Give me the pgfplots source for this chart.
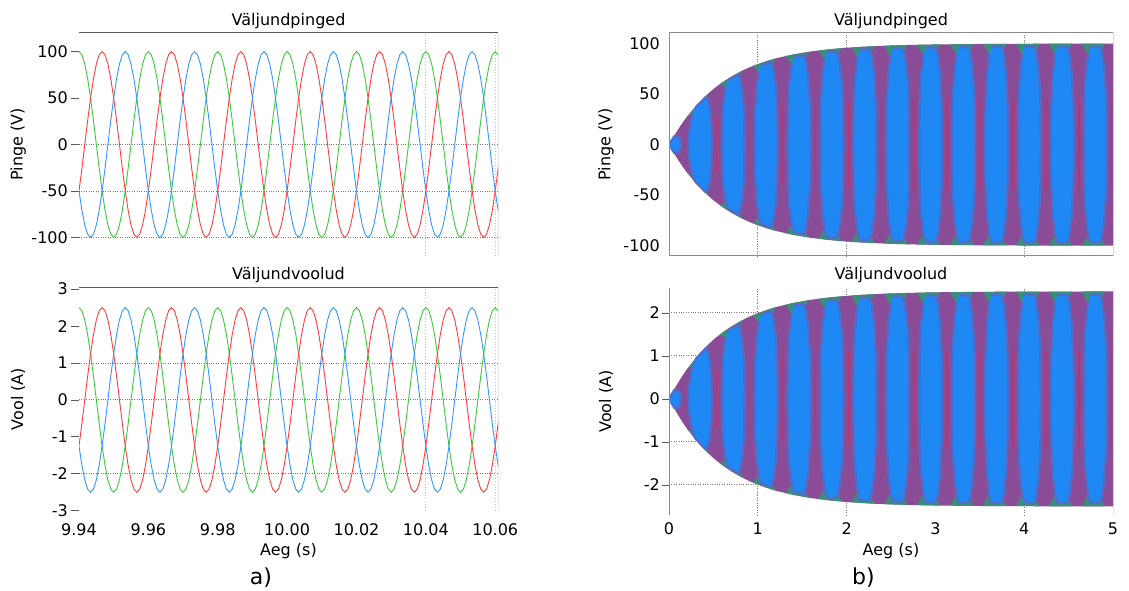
\documentclass[border=0pt]{standalone}
\usepackage{fontspec}
\setmainfont{DejaVu Sans}
\usepackage{pgfplots}
\pgfplotsset{compat=1.18}
\usepackage{pgfplotstable}

\definecolor{cR}{RGB}{255,60,60}
\definecolor{cG}{RGB}{60,200,60}
\definecolor{cB}{RGB}{50,150,255}
\definecolor{cPur}{RGB}{138,76,150}
\definecolor{cLens}{RGB}{30,136,245}
\definecolor{cGrn}{RGB}{40,160,115}
\definecolor{cRline}{RGB}{192,48,106}
\definecolor{cAx}{RGB}{90,90,90}
\definecolor{cGrid}{RGB}{120,120,120}

\newcommand\fs{\fontsize{16}{19}\selectfont}

\pgfplotstableread{
t vg vr vb ig ir ib
9.940000 100 -50 -50 2.5 -1.25 -1.25
9.940833 96.59 -25.88 -70.71 2.415 -0.647 -1.768
9.941667 86.6 0 -86.6 2.165 0 -2.165
9.942500 70.71 25.88 -96.59 1.768 0.647 -2.415
9.943333 50 50 -100 1.25 1.25 -2.5
9.944167 25.88 70.71 -96.59 0.647 1.768 -2.415
9.945000 0 86.6 -86.6 0 2.165 -2.165
9.945833 -25.88 96.59 -70.71 -0.647 2.415 -1.768
9.946667 -50 100 -50 -1.25 2.5 -1.25
9.947500 -70.71 96.59 -25.88 -1.768 2.415 -0.647
9.948333 -86.6 86.6 0 -2.165 2.165 0
9.949167 -96.59 70.71 25.88 -2.415 1.768 0.647
9.950000 -100 50 50 -2.5 1.25 1.25
9.950833 -96.59 25.88 70.71 -2.415 0.647 1.768
9.951667 -86.6 0 86.6 -2.165 0 2.165
9.952500 -70.71 -25.88 96.59 -1.768 -0.647 2.415
9.953333 -50 -50 100 -1.25 -1.25 2.5
9.954167 -25.88 -70.71 96.59 -0.647 -1.768 2.415
9.955000 0 -86.6 86.6 0 -2.165 2.165
9.955833 25.88 -96.59 70.71 0.647 -2.415 1.768
9.956667 50 -100 50 1.25 -2.5 1.25
9.957500 70.71 -96.59 25.88 1.768 -2.415 0.647
9.958333 86.6 -86.6 0 2.165 -2.165 0
9.959167 96.59 -70.71 -25.88 2.415 -1.768 -0.647
9.960000 100 -50 -50 2.5 -1.25 -1.25
9.960833 96.59 -25.88 -70.71 2.415 -0.647 -1.768
9.961667 86.6 0 -86.6 2.165 0 -2.165
9.962500 70.71 25.88 -96.59 1.768 0.647 -2.415
9.963333 50 50 -100 1.25 1.25 -2.5
9.964167 25.88 70.71 -96.59 0.647 1.768 -2.415
9.965000 0 86.6 -86.6 0 2.165 -2.165
9.965833 -25.88 96.59 -70.71 -0.647 2.415 -1.768
9.966667 -50 100 -50 -1.25 2.5 -1.25
9.967500 -70.71 96.59 -25.88 -1.768 2.415 -0.647
9.968333 -86.6 86.6 0 -2.165 2.165 0
9.969167 -96.59 70.71 25.88 -2.415 1.768 0.647
9.970000 -100 50 50 -2.5 1.25 1.25
9.970833 -96.59 25.88 70.71 -2.415 0.647 1.768
9.971667 -86.6 0 86.6 -2.165 0 2.165
9.972500 -70.71 -25.88 96.59 -1.768 -0.647 2.415
9.973333 -50 -50 100 -1.25 -1.25 2.5
9.974167 -25.88 -70.71 96.59 -0.647 -1.768 2.415
9.975000 0 -86.6 86.6 0 -2.165 2.165
9.975833 25.88 -96.59 70.71 0.647 -2.415 1.768
9.976667 50 -100 50 1.25 -2.5 1.25
9.977500 70.71 -96.59 25.88 1.768 -2.415 0.647
9.978333 86.6 -86.6 0 2.165 -2.165 0
9.979167 96.59 -70.71 -25.88 2.415 -1.768 -0.647
9.980000 100 -50 -50 2.5 -1.25 -1.25
9.980833 96.59 -25.88 -70.71 2.415 -0.647 -1.768
9.981667 86.6 0 -86.6 2.165 0 -2.165
9.982500 70.71 25.88 -96.59 1.768 0.647 -2.415
9.983333 50 50 -100 1.25 1.25 -2.5
9.984167 25.88 70.71 -96.59 0.647 1.768 -2.415
9.985000 0 86.6 -86.6 0 2.165 -2.165
9.985833 -25.88 96.59 -70.71 -0.647 2.415 -1.768
9.986667 -50 100 -50 -1.25 2.5 -1.25
9.987500 -70.71 96.59 -25.88 -1.768 2.415 -0.647
9.988333 -86.6 86.6 0 -2.165 2.165 0
9.989167 -96.59 70.71 25.88 -2.415 1.768 0.647
9.990000 -100 50 50 -2.5 1.25 1.25
9.990833 -96.59 25.88 70.71 -2.415 0.647 1.768
9.991667 -86.6 0 86.6 -2.165 0 2.165
9.992500 -70.71 -25.88 96.59 -1.768 -0.647 2.415
9.993333 -50 -50 100 -1.25 -1.25 2.5
9.994167 -25.88 -70.71 96.59 -0.647 -1.768 2.415
9.995000 0 -86.6 86.6 0 -2.165 2.165
9.995833 25.88 -96.59 70.71 0.647 -2.415 1.768
9.996667 50 -100 50 1.25 -2.5 1.25
9.997500 70.71 -96.59 25.88 1.768 -2.415 0.647
9.998333 86.6 -86.6 0 2.165 -2.165 0
9.999167 96.59 -70.71 -25.88 2.415 -1.768 -0.647
10.000000 100 -50 -50 2.5 -1.25 -1.25
10.000833 96.59 -25.88 -70.71 2.415 -0.647 -1.768
10.001667 86.6 0 -86.6 2.165 0 -2.165
10.002500 70.71 25.88 -96.59 1.768 0.647 -2.415
10.003333 50 50 -100 1.25 1.25 -2.5
10.004167 25.88 70.71 -96.59 0.647 1.768 -2.415
10.005000 0 86.6 -86.6 0 2.165 -2.165
10.005833 -25.88 96.59 -70.71 -0.647 2.415 -1.768
10.006667 -50 100 -50 -1.25 2.5 -1.25
10.007500 -70.71 96.59 -25.88 -1.768 2.415 -0.647
10.008333 -86.6 86.6 0 -2.165 2.165 0
10.009167 -96.59 70.71 25.88 -2.415 1.768 0.647
10.010000 -100 50 50 -2.5 1.25 1.25
10.010833 -96.59 25.88 70.71 -2.415 0.647 1.768
10.011667 -86.6 0 86.6 -2.165 0 2.165
10.012500 -70.71 -25.88 96.59 -1.768 -0.647 2.415
10.013333 -50 -50 100 -1.25 -1.25 2.5
10.014167 -25.88 -70.71 96.59 -0.647 -1.768 2.415
10.015000 0 -86.6 86.6 0 -2.165 2.165
10.015833 25.88 -96.59 70.71 0.647 -2.415 1.768
10.016667 50 -100 50 1.25 -2.5 1.25
10.017500 70.71 -96.59 25.88 1.768 -2.415 0.647
10.018333 86.6 -86.6 0 2.165 -2.165 0
10.019167 96.59 -70.71 -25.88 2.415 -1.768 -0.647
10.020000 100 -50 -50 2.5 -1.25 -1.25
10.020833 96.59 -25.88 -70.71 2.415 -0.647 -1.768
10.021667 86.6 0 -86.6 2.165 0 -2.165
10.022500 70.71 25.88 -96.59 1.768 0.647 -2.415
10.023333 50 50 -100 1.25 1.25 -2.5
10.024167 25.88 70.71 -96.59 0.647 1.768 -2.415
10.025000 0 86.6 -86.6 0 2.165 -2.165
10.025833 -25.88 96.59 -70.71 -0.647 2.415 -1.768
10.026667 -50 100 -50 -1.25 2.5 -1.25
10.027500 -70.71 96.59 -25.88 -1.768 2.415 -0.647
10.028333 -86.6 86.6 0 -2.165 2.165 0
10.029167 -96.59 70.71 25.88 -2.415 1.768 0.647
10.030000 -100 50 50 -2.5 1.25 1.25
10.030833 -96.59 25.88 70.71 -2.415 0.647 1.768
10.031667 -86.6 0 86.6 -2.165 0 2.165
10.032500 -70.71 -25.88 96.59 -1.768 -0.647 2.415
10.033333 -50 -50 100 -1.25 -1.25 2.5
10.034167 -25.88 -70.71 96.59 -0.647 -1.768 2.415
10.035000 0 -86.6 86.6 0 -2.165 2.165
10.035833 25.88 -96.59 70.71 0.647 -2.415 1.768
10.036667 50 -100 50 1.25 -2.5 1.25
10.037500 70.71 -96.59 25.88 1.768 -2.415 0.647
10.038333 86.6 -86.6 0 2.165 -2.165 0
10.039167 96.59 -70.71 -25.88 2.415 -1.768 -0.647
10.040000 100 -50 -50 2.5 -1.25 -1.25
10.040833 96.59 -25.88 -70.71 2.415 -0.647 -1.768
10.041667 86.6 0 -86.6 2.165 0 -2.165
10.042500 70.71 25.88 -96.59 1.768 0.647 -2.415
10.043333 50 50 -100 1.25 1.25 -2.5
10.044167 25.88 70.71 -96.59 0.647 1.768 -2.415
10.045000 0 86.6 -86.6 0 2.165 -2.165
10.045833 -25.88 96.59 -70.71 -0.647 2.415 -1.768
10.046667 -50 100 -50 -1.25 2.5 -1.25
10.047500 -70.71 96.59 -25.88 -1.768 2.415 -0.647
10.048333 -86.6 86.6 0 -2.165 2.165 0
10.049167 -96.59 70.71 25.88 -2.415 1.768 0.647
10.050000 -100 50 50 -2.5 1.25 1.25
10.050833 -96.59 25.88 70.71 -2.415 0.647 1.768
10.051667 -86.6 0 86.6 -2.165 0 2.165
10.052500 -70.71 -25.88 96.59 -1.768 -0.647 2.415
10.053333 -50 -50 100 -1.25 -1.25 2.5
10.054167 -25.88 -70.71 96.59 -0.647 -1.768 2.415
10.055000 0 -86.6 86.6 0 -2.165 2.165
10.055833 25.88 -96.59 70.71 0.647 -2.415 1.768
10.056667 50 -100 50 1.25 -2.5 1.25
10.057500 70.71 -96.59 25.88 1.768 -2.415 0.647
10.058333 86.6 -86.6 0 2.165 -2.165 0
10.059167 96.59 -70.71 -25.88 2.415 -1.768 -0.647
10.060000 100 -50 -50 2.5 -1.25 -1.25
10.060833 96.59 -25.88 -70.71 2.415 -0.647 -1.768
10.061667 86.6 0 -86.6 2.165 0 -2.165
}\wave

\pgfplotsset{
  base/.style={
    scale only axis,
    font=\fs,
    /pgf/number format/assume math mode=true,
    axis line style={draw=none},
    ytick pos=left, xtick pos=bottom,
    tick style={cAx, line width=0.8pt},
    tick align=outside,
    grid style={cGrid, dotted, line width=0.9pt},
    yticklabel style={anchor=east, inner sep=0pt},
    xticklabel style={anchor=center, inner sep=0pt},
    title style={font=\fs, anchor=center, at={(rel axis cs:0.5,1)}},
    every axis y label/.style={at={(rel axis cs:0,0.5)}, rotate=90, anchor=center, font=\fs},
    every axis x label/.style={at={(rel axis cs:0.5,0)}, anchor=center, font=\fs},
  },
  wave/.style={line width=0.9pt},
  lens/.style={fill=cLens, draw=cLens!55!cPur, line width=2.2pt},
  grn/.style={fill=cGrn, draw=none, opacity=0.8},
  rline/.style={draw=cRline, line width=1.5pt, opacity=0.8},
}

\begin{document}
\begin{tikzpicture}
\path[use as bounding box] (0pt,0pt) rectangle (1129pt,591pt);

% ---------- a) voltages ----------
\begin{axis}[base,
  at={(79pt,335pt)}, anchor=south west, width=419pt, height=223pt,
  xmin=9.94, xmax=10.0608, ymin=-120, ymax=120,
  xtick=\empty,
  ytick={-100,-50,0,50,100}, major tick length=8pt,
  yticklabel style={xshift=-3pt},
  extra y ticks={-100,-50,0}, extra y tick labels={},
  extra y tick style={grid=major},
  extra x ticks={10.04,10.06}, extra x tick labels={},
  extra x tick style={grid=major, major tick length=0pt, major grid style={black!25, dotted, line width=0.9pt}},
  title={Väljundpinged}, title style={yshift=6pt},
  ylabel={Pinge (V)}, ylabel style={yshift=60.7pt},
]
\addplot[wave, cG] table[x=t, y=vg] {\wave};
\addplot[wave, cR] table[x=t, y=vr] {\wave};
\addplot[wave, cB] table[x=t, y=vb] {\wave};
\draw[cAx, line width=1pt] (rel axis cs:0,1) -- (rel axis cs:1,1) -- (rel axis cs:1,0);
\end{axis}

% ---------- a) currents ----------
\begin{axis}[base,
  at={(79pt,80.3pt)}, anchor=south west, width=419pt, height=223.4pt,
  xmin=9.94, xmax=10.0608, ymin=-3, ymax=3.05,
  xtick={9.94,9.96,9.98,10.00,10.02,10.04,10.06},
  xticklabels={9.94,9.96,9.98,10.00,10.02,10.04,10.06},
  xticklabel style={yshift=-10.6pt},
  x tick style={draw=none},
  ytick={-3,-2,-1,0,1,2,3}, major tick length=8pt,
  yticklabel style={xshift=-3pt},
  extra y ticks={-2,0,1}, extra y tick labels={},
  extra y tick style={grid=major},
  extra x ticks={10.04,10.06}, extra x tick labels={},
  extra x tick style={grid=major, major tick length=0pt, major grid style={black!25, dotted, line width=0.9pt}},
  title={Väljundvoolud}, title style={yshift=6.3pt},
  ylabel={Vool (A)}, ylabel style={yshift=61pt},
  xlabel={Aeg (s)}, xlabel style={yshift=-40.3pt},
]
\addplot[wave, cG] table[x=t, y=ig] {\wave};
\addplot[wave, cR] table[x=t, y=ir] {\wave};
\addplot[wave, cB] table[x=t, y=ib] {\wave};
\draw[cAx, line width=1pt] (rel axis cs:0,1) -- (rel axis cs:1,1) -- (rel axis cs:1,0);
\end{axis}

% ---------- b) voltages ----------
\begin{axis}[base,
  at={(669pt,335pt)}, anchor=south west, width=444pt, height=223pt,
  xmin=0, xmax=5, ymin=-110.2, ymax=110.5,
  xtick=\empty,
  ytick={-100,-50,0,50,100}, major tick length=0pt,
  yticklabel style={xshift=-9pt},
  extra x ticks={1,2,4}, extra x tick labels={},
  extra x tick style={grid=major, major tick length=0pt},
  title={Väljundpinged}, title style={yshift=6pt},
  ylabel={Pinge (V)}, ylabel style={yshift=63pt},
  unbounded coords=jump,
]
\addplot[fill=cPur, draw=none] coordinates {
(0,0) (0.05,7.69) (0.1,14.79) (0.15,21.34) (0.2,27.39) (0.3,38.12) (0.4,47.27) (0.5,55.07) (0.6,61.71) (0.7,67.37) (0.8,72.20) (0.9,76.31) (1,79.81) (1.1,82.80) (1.2,85.34) (1.4,89.35) (1.6,92.27) (1.8,94.39) (2,95.92) (2.25,97.27) (2.5,98.17) (2.75,98.77) (3,99.18) (3.5,99.63) (4,99.83) (4.5,99.93) (5,99.97)
(5,-99.97) (4.5,-99.93) (4,-99.83) (3.5,-99.63) (3,-99.18) (2.75,-98.77) (2.5,-98.17) (2.25,-97.27) (2,-95.92) (1.8,-94.39) (1.6,-92.27) (1.4,-89.35) (1.2,-85.34) (1.1,-82.80) (1,-79.81) (0.9,-76.31) (0.8,-72.20) (0.7,-67.37) (0.6,-61.71) (0.5,-55.07) (0.4,-47.27) (0.3,-38.12) (0.2,-27.39) (0.15,-21.34) (0.1,-14.79) (0.05,-7.69)
};
\addplot[rline] coordinates {
(0.166,-10.5) (0.166,10.5) (0.3,nan) (0.5367,-25.9) (0.5367,25.9) (0.7,nan) (0.9074,-34.5) (0.9074,34.5) (1,nan) (1.2781,-39.2) (1.2781,39.2) (1.4,nan) (1.6488,-41.8) (1.6488,41.8) (1.8,nan) (2.0195,-43.2) (2.0195,43.2) (2.1,nan) (2.3902,-44) (2.3902,44) (2.5,nan) (2.7609,-44.5) (2.7609,44.5) (2.9,nan) (3.1316,-44.7) (3.1316,44.7) (3.3,nan) (3.5023,-44.8) (3.5023,44.8) (3.6,nan) (3.873,-44.9) (3.873,44.9) (4,nan) (4.2437,-44.9) (4.2437,44.9) (4.4,nan) (4.6144,-44.9) (4.6144,44.9) (4.8,nan) (4.9851,-44.9) (4.9851,44.9)
};
\addplot[grn] coordinates {
(0.202,27.62) (0.462,52.25) (0.332,33.59) (0.35,nan) (0.202,-27.62) (0.462,-52.25) (0.332,-33.59) (0.5,nan)
(0.5727,60.0) (0.8327,73.61) (0.7027,53.46) (0.7,nan) (0.5727,-60.0) (0.8327,-73.61) (0.7027,-53.46) (0.8,nan)
(0.9434,77.89) (1.2034,85.42) (1.0734,64.44) (1.1,nan) (0.9434,-77.89) (1.2034,-85.42) (1.0734,-64.44) (1.2,nan)
(1.3141,87.79) (1.5741,91.94) (1.4441,70.50) (1.5,nan) (1.3141,-87.79) (1.5741,-91.94) (1.4441,-70.50) (1.6,nan)
(1.6848,93.25) (1.9448,95.55) (1.8148,73.86) (1.8,nan) (1.6848,-93.25) (1.9448,-95.55) (1.8148,-73.86) (1.9,nan)
(2.0555,96.27) (2.3155,97.54) (2.1855,75.71) (2.2,nan) (2.0555,-96.27) (2.3155,-97.54) (2.1855,-75.71) (2.3,nan)
(2.4262,97.94) (2.6862,98.64) (2.5562,76.74) (2.6,nan) (2.4262,-97.94) (2.6862,-98.64) (2.5562,-76.74) (2.7,nan)
(2.7969,98.86) (3.0569,99.25) (2.9269,77.3) (2.9,nan) (2.7969,-98.86) (3.0569,-99.25) (2.9269,-77.3) (3.0,nan)
(3.1676,99.37) (3.4276,99.58) (3.2976,77.6) (3.3,nan) (3.1676,-99.37) (3.4276,-99.58) (3.2976,-77.6) (3.4,nan)
(3.5383,99.65) (3.7983,99.77) (3.6683,77.8) (3.7,nan) (3.5383,-99.65) (3.7983,-99.77) (3.6683,-77.8) (3.8,nan)
(3.909,99.81) (4.169,99.87) (4.039,77.9) (4.0,nan) (3.909,-99.81) (4.169,-99.87) (4.039,-77.9) (4.1,nan)
(4.2797,99.89) (4.5397,99.93) (4.4097,77.9) (4.4,nan) (4.2797,-99.89) (4.5397,-99.93) (4.4097,-77.9) (4.5,nan)
(4.6504,99.94) (4.9104,99.96) (4.7804,78.0) (4.8,nan) (4.6504,-99.94) (4.9104,-99.96) (4.7804,-78.0)
};
\addplot[lens] coordinates {
(0,0) (0.02,2.84) (0.06,8.24) (0.11,8.07) (0.14,0) (0.11,-8.07) (0.06,-8.24) (0.02,-2.84) (0.15,nan)
(0.297,36.69) (0.407,46.42) (0.432,44.91) (0.46,36.47) (0.477,21.35) (0.482,0) (0.477,-21.35) (0.46,-36.47) (0.432,-44.91) (0.407,-46.42) (0.297,-36.69) (0.272,-31.75) (0.244,-22.62) (0.227,-12.18) (0.222,0) (0.227,12.18) (0.244,22.62) (0.272,31.75) (0.5,nan)
(0.6677,63.67) (0.7777,69.05) (0.8027,65.09) (0.8307,51.47) (0.8477,29.70) (0.8527,0) (0.8477,-29.70) (0.8307,-51.47) (0.8027,-65.09) (0.7777,-69.05) (0.6677,-63.67) (0.6427,-57.82) (0.6147,-43.82) (0.5977,-24.63) (0.5927,0) (0.5977,24.63) (0.6147,43.82) (0.6427,57.82) (0.9,nan)
(1.0384,78.58) (1.1484,81.56) (1.1734,76.23) (1.2014,59.76) (1.2184,34.30) (1.2234,0) (1.2184,-34.30) (1.2014,-59.76) (1.1734,-76.23) (1.1484,-81.56) (1.0384,-78.58) (1.0134,-72.22) (0.9854,-55.53) (0.9684,-31.50) (0.9634,0) (0.9684,31.50) (0.9854,55.53) (1.0134,72.22) (1.3,nan)
(1.4091,86.82) (1.5191,88.46) (1.5441,82.40) (1.5721,64.34) (1.5891,36.85) (1.5941,0) (1.5891,-36.85) (1.5721,-64.34) (1.5441,-82.40) (1.5191,-88.46) (1.4091,-86.82) (1.3841,-80.17) (1.3561,-62.01) (1.3391,-35.30) (1.3341,0) (1.3391,35.30) (1.3561,62.01) (1.3841,80.17) (1.65,nan)
(1.7798,91.85) (1.8898,91.85) (1.9148,85.22) (1.9428,66.28) (1.9598,37.88) (1.9648,0) (1.9598,-37.88) (1.9428,-66.28) (1.9148,-85.22) (1.8898,-91.85) (1.7798,-91.85) (1.7548,-85.22) (1.7268,-66.28) (1.7098,-37.88) (1.7048,0) (1.7098,37.88) (1.7268,66.28) (1.7548,85.22) (2.0,nan)
(2.1505,94.16) (2.2605,94.16) (2.2855,87.36) (2.3135,67.95) (2.3305,38.83) (2.3355,0) (2.3305,-38.83) (2.3135,-67.95) (2.2855,-87.36) (2.2605,-94.16) (2.1505,-94.16) (2.1255,-87.36) (2.0975,-67.95) (2.0805,-38.83) (2.0755,0) (2.0805,38.83) (2.0975,67.95) (2.1255,87.36) (2.4,nan)
(2.5212,95.43) (2.6312,95.43) (2.6562,88.54) (2.6842,68.87) (2.7012,39.35) (2.7062,0) (2.7012,-39.35) (2.6842,-68.87) (2.6562,-88.54) (2.6312,-95.43) (2.5212,-95.43) (2.4962,-88.54) (2.4682,-68.87) (2.4512,-39.35) (2.4462,0) (2.4512,39.35) (2.4682,68.87) (2.4962,88.54) (2.75,nan)
(2.8919,96.13) (3.0019,96.13) (3.0269,89.19) (3.0549,69.37) (3.0719,39.64) (3.0769,0) (3.0719,-39.64) (3.0549,-69.37) (3.0269,-89.19) (3.0019,-96.13) (2.8919,-96.13) (2.8669,-89.19) (2.8389,-69.37) (2.8219,-39.64) (2.8169,0) (2.8219,39.64) (2.8389,69.37) (2.8669,89.19) (3.1,nan)
(3.2626,96.52) (3.3726,96.52) (3.3976,89.55) (3.4256,69.65) (3.4426,39.80) (3.4476,0) (3.4426,-39.80) (3.4256,-69.65) (3.3976,-89.55) (3.3726,-96.52) (3.2626,-96.52) (3.2376,-89.55) (3.2096,-69.65) (3.1926,-39.80) (3.1876,0) (3.1926,39.80) (3.2096,69.65) (3.2376,89.55) (3.5,nan)
(3.6333,96.8) (3.7433,96.8) (3.7683,89.8) (3.7963,69.86) (3.8133,39.9) (3.8183,0) (3.8133,-39.9) (3.7963,-69.86) (3.7683,-89.8) (3.7433,-96.8) (3.6333,-96.8) (3.6083,-89.8) (3.5803,-69.86) (3.5633,-39.9) (3.5583,0) (3.5633,39.9) (3.5803,69.86) (3.6083,89.8) (3.9,nan)
(4.004,96.8) (4.114,96.8) (4.139,89.8) (4.167,69.86) (4.184,39.9) (4.189,0) (4.184,-39.9) (4.167,-69.86) (4.139,-89.8) (4.114,-96.8) (4.004,-96.8) (3.979,-89.8) (3.951,-69.86) (3.934,-39.9) (3.929,0) (3.934,39.9) (3.951,69.86) (3.979,89.8) (4.25,nan)
(4.3747,96.8) (4.4847,96.8) (4.5097,89.8) (4.5377,69.86) (4.5547,39.9) (4.5597,0) (4.5547,-39.9) (4.5377,-69.86) (4.5097,-89.8) (4.4847,-96.8) (4.3747,-96.8) (4.3497,-89.8) (4.3217,-69.86) (4.3047,-39.9) (4.2997,0) (4.3047,39.9) (4.3217,69.86) (4.3497,89.8) (4.6,nan)
(4.7454,96.8) (4.8554,96.8) (4.8804,89.8) (4.9084,69.86) (4.9254,39.9) (4.9304,0) (4.9254,-39.9) (4.9084,-69.86) (4.8804,-89.8) (4.8554,-96.8) (4.7454,-96.8) (4.7204,-89.8) (4.6924,-69.86) (4.6754,-39.9) (4.6704,0) (4.6754,39.9) (4.6924,69.86) (4.7204,89.8)
};
\draw[cAx!70, line width=1pt] (rel axis cs:0,0) rectangle (rel axis cs:1,1);
\draw[black!80, line width=1pt] (rel axis cs:1,0) -- (rel axis cs:1,1);
\end{axis}

% ---------- b) currents ----------
\begin{axis}[base,
  at={(669pt,76pt)}, anchor=south west, width=444pt, height=227pt,
  xmin=0, xmax=5, ymin=-2.70, ymax=2.58,
  xtick={0,1,2,3,4,5}, x tick style={draw=none},
  xticklabel style={yshift=-6.3pt},
  ytick={-2,-1,0,1,2}, major tick length=7pt,
  yticklabel style={xshift=-2pt},
  extra y ticks={-2,-1,1,2}, extra y tick labels={},
  extra y tick style={grid=major},
  extra x ticks={1,2,4}, extra x tick labels={},
  extra x tick style={grid=major, major tick length=0pt},
  title={Väljundvoolud}, title style={yshift=7pt},
  ylabel={Vool (A)}, ylabel style={yshift=63pt},
  xlabel={Aeg (s)}, xlabel style={yshift=-36pt},
  unbounded coords=jump,
]
\addplot[fill=cPur, draw=none] coordinates {
(0,0) (0.05,0.192) (0.1,0.370) (0.15,0.534) (0.2,0.685) (0.3,0.953) (0.4,1.182) (0.5,1.377) (0.6,1.543) (0.7,1.684) (0.8,1.805) (0.9,1.908) (1,1.995) (1.1,2.070) (1.2,2.134) (1.4,2.234) (1.6,2.307) (1.8,2.360) (2,2.398) (2.25,2.432) (2.5,2.454) (2.75,2.469) (3,2.480) (3.5,2.491) (4,2.496) (4.5,2.498) (5,2.499)
(5,-2.499) (4.5,-2.498) (4,-2.496) (3.5,-2.491) (3,-2.480) (2.75,-2.469) (2.5,-2.454) (2.25,-2.432) (2,-2.398) (1.8,-2.360) (1.6,-2.307) (1.4,-2.234) (1.2,-2.134) (1.1,-2.070) (1,-1.995) (0.9,-1.908) (0.8,-1.805) (0.7,-1.684) (0.6,-1.543) (0.5,-1.377) (0.4,-1.182) (0.3,-0.953) (0.2,-0.685) (0.15,-0.534) (0.1,-0.370) (0.05,-0.192)
};
\addplot[rline] coordinates {
(0.166,-0.262) (0.166,0.262) (0.3,nan) (0.5367,-0.648) (0.5367,0.648) (0.7,nan) (0.9074,-0.862) (0.9074,0.862) (1,nan) (1.2781,-0.98) (1.2781,0.98) (1.4,nan) (1.6488,-1.045) (1.6488,1.045) (1.8,nan) (2.0195,-1.08) (2.0195,1.08) (2.1,nan) (2.3902,-1.1) (2.3902,1.1) (2.5,nan) (2.7609,-1.112) (2.7609,1.112) (2.9,nan) (3.1316,-1.117) (3.1316,1.117) (3.3,nan) (3.5023,-1.12) (3.5023,1.12) (3.6,nan) (3.873,-1.122) (3.873,1.122) (4,nan) (4.2437,-1.122) (4.2437,1.122) (4.4,nan) (4.6144,-1.122) (4.6144,1.122) (4.8,nan) (4.9851,-1.122) (4.9851,1.122)
};
\addplot[grn] coordinates {
(0.202,0.6905) (0.462,1.306) (0.332,0.840) (0.35,nan) (0.202,-0.6905) (0.462,-1.306) (0.332,-0.840) (0.5,nan)
(0.5727,1.5) (0.8327,1.840) (0.7027,1.337) (0.7,nan) (0.5727,-1.5) (0.8327,-1.840) (0.7027,-1.337) (0.8,nan)
(0.9434,1.947) (1.2034,2.136) (1.0734,1.611) (1.1,nan) (0.9434,-1.947) (1.2034,-2.136) (1.0734,-1.611) (1.2,nan)
(1.3141,2.195) (1.5741,2.299) (1.4441,1.763) (1.5,nan) (1.3141,-2.195) (1.5741,-2.299) (1.4441,-1.763) (1.6,nan)
(1.6848,2.331) (1.9448,2.389) (1.8148,1.847) (1.8,nan) (1.6848,-2.331) (1.9448,-2.389) (1.8148,-1.847) (1.9,nan)
(2.0555,2.407) (2.3155,2.439) (2.1855,1.893) (2.2,nan) (2.0555,-2.407) (2.3155,-2.439) (2.1855,-1.893) (2.3,nan)
(2.4262,2.449) (2.6862,2.466) (2.5562,1.918) (2.6,nan) (2.4262,-2.449) (2.6862,-2.466) (2.5562,-1.918) (2.7,nan)
(2.7969,2.472) (3.0569,2.481) (2.9269,1.932) (2.9,nan) (2.7969,-2.472) (3.0569,-2.481) (2.9269,-1.932) (3.0,nan)
(3.1676,2.484) (3.4276,2.49) (3.2976,1.94) (3.3,nan) (3.1676,-2.484) (3.4276,-2.49) (3.2976,-1.94) (3.4,nan)
(3.5383,2.491) (3.7983,2.494) (3.6683,1.945) (3.7,nan) (3.5383,-2.491) (3.7983,-2.494) (3.6683,-1.945) (3.8,nan)
(3.909,2.495) (4.169,2.497) (4.039,1.947) (4.0,nan) (3.909,-2.495) (4.169,-2.497) (4.039,-1.947) (4.1,nan)
(4.2797,2.497) (4.5397,2.498) (4.4097,1.947) (4.4,nan) (4.2797,-2.497) (4.5397,-2.498) (4.4097,-1.947) (4.5,nan)
(4.6504,2.499) (4.9104,2.499) (4.7804,1.95) (4.8,nan) (4.6504,-2.499) (4.9104,-2.499) (4.7804,-1.95)
};
\addplot[lens] coordinates {
(0,0) (0.02,0.071) (0.06,0.206) (0.11,0.202) (0.14,0) (0.11,-0.202) (0.06,-0.206) (0.02,-0.071) (0.15,nan)
(0.297,0.917) (0.407,1.161) (0.432,1.123) (0.46,0.912) (0.477,0.534) (0.482,0) (0.477,-0.534) (0.46,-0.912) (0.432,-1.123) (0.407,-1.161) (0.297,-0.917) (0.272,-0.794) (0.244,-0.566) (0.227,-0.305) (0.222,0) (0.227,0.305) (0.244,0.566) (0.272,0.794) (0.5,nan)
(0.6677,1.592) (0.7777,1.726) (0.8027,1.627) (0.8307,1.287) (0.8477,0.743) (0.8527,0) (0.8477,-0.743) (0.8307,-1.287) (0.8027,-1.627) (0.7777,-1.726) (0.6677,-1.592) (0.6427,-1.446) (0.6147,-1.096) (0.5977,-0.616) (0.5927,0) (0.5977,0.616) (0.6147,1.096) (0.6427,1.446) (0.9,nan)
(1.0384,1.965) (1.1484,2.039) (1.1734,1.906) (1.2014,1.494) (1.2184,0.858) (1.2234,0) (1.2184,-0.858) (1.2014,-1.494) (1.1734,-1.906) (1.1484,-2.039) (1.0384,-1.965) (1.0134,-1.806) (0.9854,-1.388) (0.9684,-0.788) (0.9634,0) (0.9684,0.788) (0.9854,1.388) (1.0134,1.806) (1.3,nan)
(1.4091,2.171) (1.5191,2.212) (1.5441,2.060) (1.5721,1.609) (1.5891,0.921) (1.5941,0) (1.5891,-0.921) (1.5721,-1.609) (1.5441,-2.060) (1.5191,-2.212) (1.4091,-2.171) (1.3841,-2.004) (1.3561,-1.550) (1.3391,-0.883) (1.3341,0) (1.3391,0.883) (1.3561,1.550) (1.3841,2.004) (1.65,nan)
(1.7798,2.296) (1.8898,2.296) (1.9148,2.130) (1.9428,1.657) (1.9598,0.947) (1.9648,0) (1.9598,-0.947) (1.9428,-1.657) (1.9148,-2.130) (1.8898,-2.296) (1.7798,-2.296) (1.7548,-2.130) (1.7268,-1.657) (1.7098,-0.947) (1.7048,0) (1.7098,0.947) (1.7268,1.657) (1.7548,2.130) (2.0,nan)
(2.1505,2.354) (2.2605,2.354) (2.2855,2.184) (2.3135,1.699) (2.3305,0.971) (2.3355,0) (2.3305,-0.971) (2.3135,-1.699) (2.2855,-2.184) (2.2605,-2.354) (2.1505,-2.354) (2.1255,-2.184) (2.0975,-1.699) (2.0805,-0.971) (2.0755,0) (2.0805,0.971) (2.0975,1.699) (2.1255,2.184) (2.4,nan)
(2.5212,2.386) (2.6312,2.386) (2.6562,2.214) (2.6842,1.722) (2.7012,0.984) (2.7062,0) (2.7012,-0.984) (2.6842,-1.722) (2.6562,-2.214) (2.6312,-2.386) (2.5212,-2.386) (2.4962,-2.214) (2.4682,-1.722) (2.4512,-0.984) (2.4462,0) (2.4512,0.984) (2.4682,1.722) (2.4962,2.214) (2.75,nan)
(2.8919,2.403) (3.0019,2.403) (3.0269,2.230) (3.0549,1.734) (3.0719,0.991) (3.0769,0) (3.0719,-0.991) (3.0549,-1.734) (3.0269,-2.230) (3.0019,-2.403) (2.8919,-2.403) (2.8669,-2.230) (2.8389,-1.734) (2.8219,-0.991) (2.8169,0) (2.8219,0.991) (2.8389,1.734) (2.8669,2.230) (3.1,nan)
(3.2626,2.413) (3.3726,2.413) (3.3976,2.239) (3.4256,1.741) (3.4426,0.995) (3.4476,0) (3.4426,-0.995) (3.4256,-1.741) (3.3976,-2.239) (3.3726,-2.413) (3.2626,-2.413) (3.2376,-2.239) (3.2096,-1.741) (3.1926,-0.995) (3.1876,0) (3.1926,0.995) (3.2096,1.741) (3.2376,2.239) (3.5,nan)
(3.6333,2.42) (3.7433,2.42) (3.7683,2.245) (3.7963,1.747) (3.8133,0.998) (3.8183,0) (3.8133,-0.998) (3.7963,-1.747) (3.7683,-2.245) (3.7433,-2.42) (3.6333,-2.42) (3.6083,-2.245) (3.5803,-1.747) (3.5633,-0.998) (3.5583,0) (3.5633,0.998) (3.5803,1.747) (3.6083,2.245) (3.9,nan)
(4.004,2.42) (4.114,2.42) (4.139,2.245) (4.167,1.747) (4.184,0.998) (4.189,0) (4.184,-0.998) (4.167,-1.747) (4.139,-2.245) (4.114,-2.42) (4.004,-2.42) (3.979,-2.245) (3.951,-1.747) (3.934,-0.998) (3.929,0) (3.934,0.998) (3.951,1.747) (3.979,2.245) (4.25,nan)
(4.3747,2.42) (4.4847,2.42) (4.5097,2.245) (4.5377,1.747) (4.5547,0.998) (4.5597,0) (4.5547,-0.998) (4.5377,-1.747) (4.5097,-2.245) (4.4847,-2.42) (4.3747,-2.42) (4.3497,-2.245) (4.3217,-1.747) (4.3047,-0.998) (4.2997,0) (4.3047,0.998) (4.3217,1.747) (4.3497,2.245) (4.6,nan)
(4.7454,2.42) (4.8554,2.42) (4.8804,2.245) (4.9084,1.747) (4.9254,0.998) (4.9304,0) (4.9254,-0.998) (4.9084,-1.747) (4.8804,-2.245) (4.8554,-2.42) (4.7454,-2.42) (4.7204,-2.245) (4.6924,-1.747) (4.6754,-0.998) (4.6704,0) (4.6754,0.998) (4.6924,1.747) (4.7204,2.245)
};
\draw[cAx!70, line width=1pt] (rel axis cs:0,0) -- (rel axis cs:0,1);
\draw[black!85, line width=1pt] (rel axis cs:1,0) -- (rel axis cs:1,1);
\end{axis}

\node[font=\fontsize{22}{26}\selectfont] at (261pt,13pt) {a)};
\node[font=\fontsize{22}{26}\selectfont] at (863.5pt,13pt) {b)};
\end{tikzpicture}
\end{document}
